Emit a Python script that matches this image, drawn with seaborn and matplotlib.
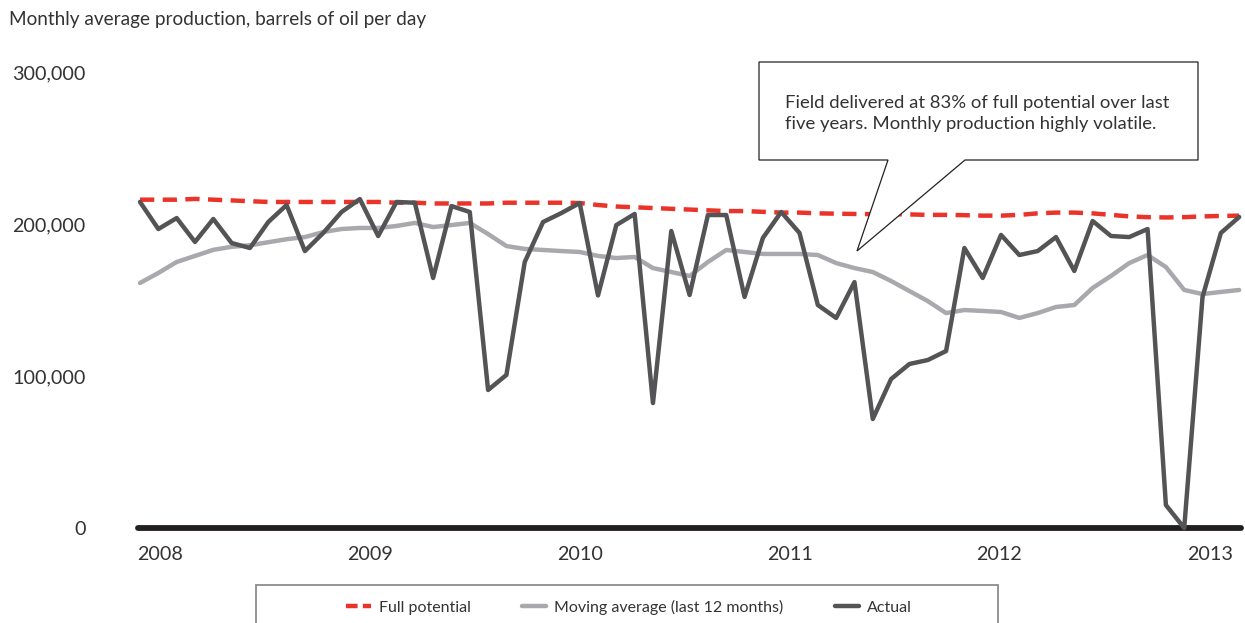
import matplotlib
matplotlib.use("Agg")
import matplotlib.pyplot as plt
import seaborn as sns
import pandas as pd
import numpy as np
from matplotlib.patches import Polygon, Rectangle
from matplotlib.lines import Line2D

# ---------------- data (thousand barrels/day, monthly, Jan 2008 - Jan 2013) ----------------
full_potential = [216, 216, 216, 216.5, 216, 215.5, 215, 214.5, 214.5, 214.5,
                  214.5, 214.5, 214.5, 214.5, 214, 214, 213.5, 213.5, 213.5, 213.5,
                  214, 214, 214, 214, 213.8, 212.5, 211.5, 211, 210.5, 210,
                  209.5, 209, 208.5, 208.5, 208, 207.5, 207.5, 207, 206.8, 206.6,
                  206.5, 206.5, 206.3, 206, 206, 205.8, 205.5, 205.5, 206, 207,
                  207.5, 207.5, 207, 206, 205, 204.5, 204.3, 204.5, 205, 205.3,
                  205.5]
moving_average = [161.2, 167.8, 175.0, 179.0, 183.0, 185.0, 186.0, 188.0, 190.0, 191.4,
                  194.7, 196.7, 197.4, 197.4, 198.7, 200.7, 198.0, 199.3, 200.7, 193.4,
                  185.5, 183.6, 182.9, 182.2, 181.6, 179.0, 177.6, 178.3, 171.0, 168.4,
                  165.8, 175.0, 182.9, 181.6, 180.3, 180.3, 180.3, 179.6, 174.3, 171.0,
                  168.4, 162.5, 155.9, 149.3, 141.4, 143.4, 142.8, 142.1, 138.2, 141.4,
                  145.4, 146.7, 157.9, 165.8, 174.3, 179.6, 171.7, 156.6, 153.9, 155.3,
                  156.6]
actual = [214.5, 196.7, 203.9, 188.2, 203.3, 187.5, 184.2, 201.3, 212.5, 182.2,
          194.1, 207.9, 216.4, 192.1, 214.5, 214.0, 164.5, 211.8, 207.9, 90.8,
          100.7, 175.0, 201.3, 207.2, 213.8, 153.0, 199.3, 206.6, 82.2, 195.4,
          153.3, 205.9, 205.9, 152.0, 190.8, 207.9, 194.1, 146.7, 138.2, 161.8,
          71.7, 98.0, 107.9, 110.5, 116.4, 184.2, 164.5, 192.8, 179.6, 182.2,
          191.4, 169.1, 202.0, 192.1, 191.4, 196.7, 15.1, 0.0, 152.0, 194.1,
          204.6]
months = list(range(len(actual)))
year_labels = ["2008", "2009", "2010", "2011", "2012", "2013"]
year_positions = [1.1, 12.55, 24.0, 35.5, 46.9, 58.4]
y_ticks = [0, 100000, 200000, 300000]
y_tick_labels = ["0", "100,000", "200,000", "300,000"]

title = "Monthly average production, barrels of oil per day"
callout = "Field delivered at 83% of full potential over last\nfive years. Monthly production highly volatile."
series_labels = ["Full potential", "Moving average (last 12 months)", "Actual"]

df = pd.DataFrame({
    "month": months,
    "full": np.array(full_potential) * 1000,
    "mavg": np.array(moving_average) * 1000,
    "actual": np.array(actual) * 1000,
})

# ---------------- styling ----------------
sns.set_theme(style="white")
plt.rcParams["font.family"] = ["Lato", "DejaVu Sans"]
TXT = "#333333"
RED = "#ea3329"
LGRAY = "#a9a9ad"
DGRAY = "#545456"

W, H = 1245, 623
fig = plt.figure(figsize=(W / 100, H / 100), dpi=100)
ax = fig.add_axes([138.2 / W, (H - 528) / H, (1241 - 138.2) / W, (528 - 72) / H])

ax.axhline(0, color="#231f20", lw=4.2, zorder=1, clip_on=False)

sns.lineplot(data=df, x="month", y="full", ax=ax, color=RED, lw=3.2,
             label=series_labels[0], zorder=3, clip_on=False)
sns.lineplot(data=df, x="month", y="mavg", ax=ax, color=LGRAY, lw=3.2,
             label=series_labels[1], zorder=2, clip_on=False)
sns.lineplot(data=df, x="month", y="actual", ax=ax, color=DGRAY, lw=3.2,
             label=series_labels[2], zorder=4, clip_on=False)
ax.lines[1].set_linestyle((0, (3.2, 1.9)))

ax.set_xlim(-0.1, 60.1)
ax.set_ylim(0, 300000)
ax.set_xticks(year_positions)
ax.set_xticklabels(year_labels)
ax.set_yticks(y_ticks)
ax.set_yticklabels(y_tick_labels)
ax.set_xlabel("")
ax.set_ylabel("")
ax.tick_params(axis="both", length=0, labelsize=14.2, colors=TXT)
ax.tick_params(axis="y", pad=38)
ax.tick_params(axis="x", pad=13)
for s in ax.spines.values():
    s.set_visible(False)
ax.grid(False)

ax.get_legend().remove()
handles = [
    Line2D([], [], color=RED, lw=3.2, linestyle=(0, (2.6, 1.2))),
    Line2D([], [], color=LGRAY, lw=3.2),
    Line2D([], [], color=DGRAY, lw=3.2),
]

# title
fig.text(9 / W, 1 - 20 / H, title, ha="left", va="center", fontsize=13.7, color=TXT)

# callout bubble (figure pixel coords)
pts = [(759, 62), (1198, 62), (1198, 160), (965, 160), (857, 251), (888, 160), (759, 160)]
poly = Polygon([(x / W, 1 - y / H) for x, y in pts], closed=True, transform=fig.transFigure,
               facecolor="white", edgecolor="#222222", lw=0.9, zorder=10)
fig.add_artist(poly)
fig.text(785 / W, 1 - 113.5 / H, callout, ha="left", va="center", fontsize=13.3,
         color=TXT, linespacing=1.38, zorder=11)

# legend
leg = fig.legend(handles, series_labels, loc="center", bbox_to_anchor=(629 / W, 1 - 607 / H),
                 ncol=3, frameon=False, fontsize=11.5, handlelength=1.55,
                 handletextpad=0.5, columnspacing=3.2, labelcolor=TXT)
box = Rectangle((256 / W, -0.1), (998 - 256) / W, (1 - 585 / H) + 0.1,
                transform=fig.transFigure, fill=False, edgecolor="#8c8c8c", lw=1.3,
                clip_on=False)
fig.add_artist(box)

fig.savefig("out.png", dpi=100)
